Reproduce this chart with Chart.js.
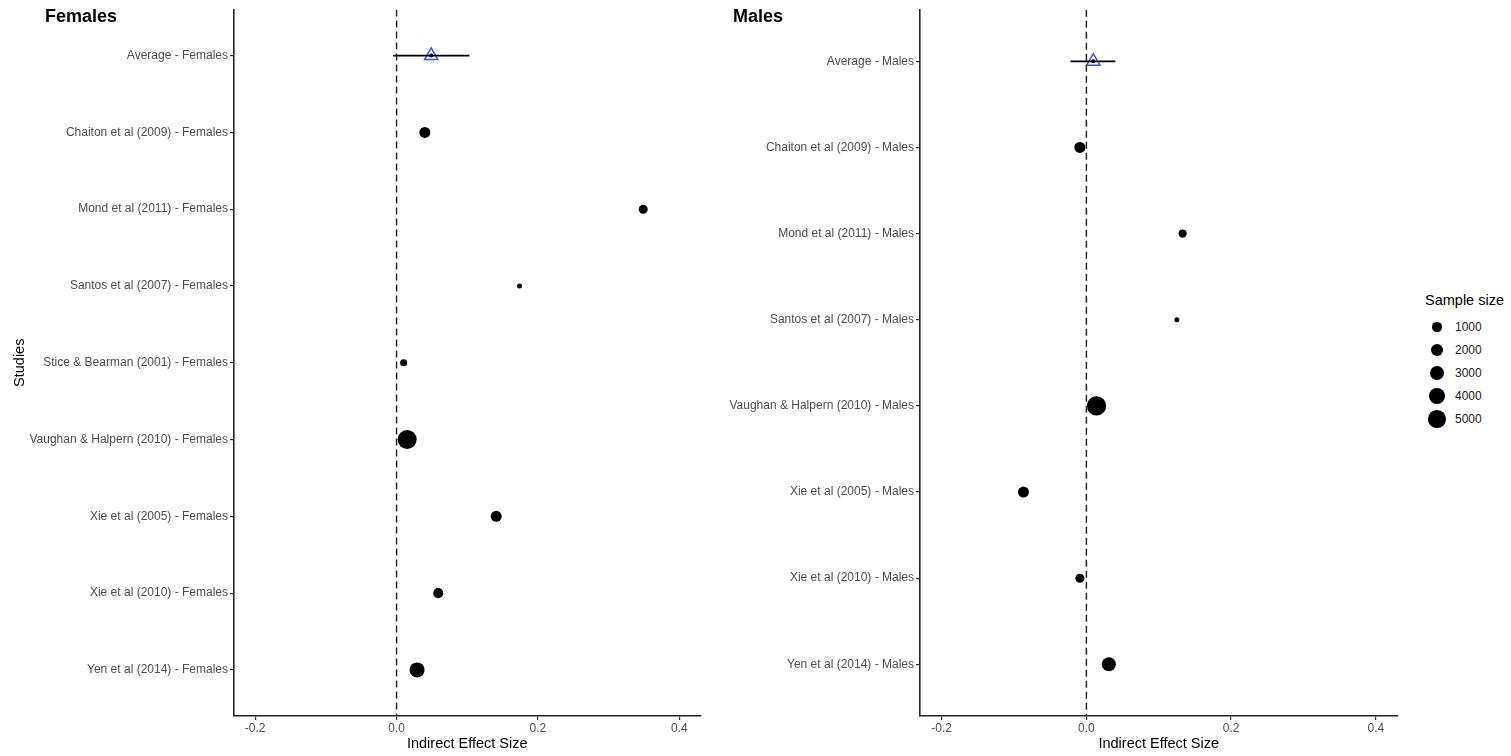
<!DOCTYPE html>
<html><head><meta charset="utf-8">
<script src="https://cdn.jsdelivr.net/npm/chart.js@4.4.1/dist/chart.umd.min.js"></script>
<style>
html,body{margin:0;padding:0;background:#fff;width:1511px;height:756px;overflow:hidden;font-family:"Liberation Sans",Arial,Helvetica,sans-serif;}
.wrap{position:absolute;top:0;height:756px;}
#wf{left:0;width:710px;}
#wm{left:710px;width:700px;}
.ptitle{position:absolute;top:6px;font-weight:bold;font-size:18px;line-height:20px;color:#000;}
#legend{position:absolute;left:1425px;top:292px;width:86px;}
#legend .lt{font-size:14.5px;line-height:17px;color:#000;white-space:nowrap;}
#legend .item{position:absolute;left:0;width:80px;height:23px;}
#legend .dot{position:absolute;background:#000;border-radius:50%;}
#legend .lab{position:absolute;left:30px;font-size:12px;line-height:14px;}
</style>
</head><body>
<div class="wrap" id="wf"><canvas id="cf" width="710" height="756"></canvas></div>
<div class="wrap" id="wm"><canvas id="cm" width="700" height="756"></canvas></div>
<div class="ptitle" style="left:45px">Females</div>
<div class="ptitle" style="left:733px">Males</div>
<div id="legend"><div class="lt">Sample size</div></div>
<script>
// ---------------- DATA ----------------
const xTicks = [-0.2, 0.0, 0.2, 0.4];
const xMin = -0.23, xMax = 0.43;
const refLine = 0;

const femaleAverageLabel = "Average - Females";
const femaleAverage = 0.049;
const femaleAverageLow = -0.005;
const femaleAverageHigh = 0.103;
const femaleStudies = [
  "Chaiton et al (2009) - Females",
  "Mond et al (2011) - Females",
  "Santos et al (2007) - Females",
  "Stice & Bearman (2001) - Females",
  "Vaughan & Halpern (2010) - Females",
  "Xie et al (2005) - Females",
  "Xie et al (2010) - Females",
  "Yen et al (2014) - Females"
];
const femaleEffects = [0.040, 0.349, 0.174, 0.010, 0.015, 0.141, 0.059, 0.029];
const femaleSizes   = [1500, 950, 485, 600, 6000, 1500, 1200, 3300];

const maleAverageLabel = "Average - Males";
const maleAverage = 0.0095;
const maleAverageLow = -0.022;
const maleAverageHigh = 0.040;
const maleStudies = [
  "Chaiton et al (2009) - Males",
  "Mond et al (2011) - Males",
  "Santos et al (2007) - Males",
  "Vaughan & Halpern (2010) - Males",
  "Xie et al (2005) - Males",
  "Xie et al (2010) - Males",
  "Yen et al (2014) - Males"
];
const maleEffects = [-0.009, 0.133, 0.125, 0.014, -0.087, -0.009, 0.031];
const maleSizes   = [1500, 750, 485, 6200, 1500, 950, 2800];

const legendSizes = [1000, 2000, 3000, 4000, 5000];

// ---------------- SIZE SCALE (area scale, like ggplot) ----------------
const allSizes = femaleSizes.concat(maleSizes);
const nMin = Math.min(...allSizes), nMax = Math.max(...allSizes);
function radiusFor(n) {
  const f = Math.max(0, (n - nMin) / (nMax - nMin));
  const s = 1 + 5 * Math.sqrt(f);
  return (2.14 + 2.86 * s) / 2;
}

Chart.defaults.font.family = '"Liberation Sans", Arial, Helvetica, sans-serif';
Chart.defaults.animation = false;

function makePanel(canvasId, avgLabel, studies, effects, sizes, avg, lo, hi, yWidth, padRight, yTitle) {
  const labels = [avgLabel].concat(studies);
  const yMin = -0.6, yMax = labels.length - 1 + 0.6;
  const studyPts = effects.map((v, i) => ({x: v, y: i + 1}));
  const radii = sizes.map(radiusFor);
  return new Chart(document.getElementById(canvasId), {
    type: 'scatter',
    data: {
      datasets: [
        {
          type: 'line',
          data: [{x: refLine, y: yMin}, {x: refLine, y: yMax}],
          borderColor: '#2a2a2a', borderWidth: 1.5, borderDash: [7, 4],
          pointRadius: 0, fill: false
        },
        {
          type: 'line',
          data: [{x: lo, y: 0}, {x: hi, y: 0}],
          borderColor: '#000', borderWidth: 1.7,
          pointRadius: 0, fill: false
        },
        {
          data: studyPts,
          backgroundColor: '#000', borderWidth: 0,
          pointRadius: radii, pointHoverRadius: radii
        },
        {
          data: [{x: avg, y: 0}],
          backgroundColor: '#000', borderWidth: 0,
          pointRadius: 2
        },
        {
          data: [{x: avg, y: 0}],
          pointStyle: 'triangle',
          backgroundColor: 'rgba(0,0,0,0)', borderColor: '#3a4cff', borderWidth: 1.5,
          pointRadius: 7.7
        }
      ]
    },
    options: {
      responsive: false,
      animation: false,
      events: [],
      layout: {padding: {top: 8, bottom: 0, left: 0, right: padRight}},
      plugins: {legend: {display: false}, tooltip: {enabled: false}, title: {display: false}},
      scales: {
        x: {
          type: 'linear', min: xMin, max: xMax,
          afterBuildTicks: (scale) => { scale.ticks = xTicks.map(v => ({value: v})); },
          afterFit: (scale) => { scale.height = 40; },
          ticks: {
            autoSkip: false, padding: 1, color: '#4d4d4d', font: {size: 12},
            maxRotation: 0, callback: (v) => Number(v).toFixed(1)
          },
          grid: {display: true, drawOnChartArea: false, drawTicks: true, tickLength: 4, color: '#333', lineWidth: 1.2},
          border: {display: true, color: '#262626', width: 1.6},
          title: {display: true, text: 'Indirect Effect Size', color: '#000', font: {size: 14.5}, padding: {top: 0, bottom: 3.5}}
        },
        y: {
          type: 'linear', min: yMin, max: yMax, reverse: true,
          afterBuildTicks: (scale) => { scale.ticks = labels.map((_, i) => ({value: i})); },
          afterFit: (scale) => { scale.width = yWidth; },
          ticks: {
            autoSkip: false, padding: 2, color: '#4d4d4d', font: {size: 12},
            callback: (v) => labels[v]
          },
          grid: {display: true, drawOnChartArea: false, drawTicks: true, tickLength: 4, color: '#333', lineWidth: 1.2},
          border: {display: true, color: '#262626', width: 1.6},
          title: {display: !!yTitle, text: yTitle || '', color: '#000', font: {size: 14.5}, padding: {top: 11.5, bottom: 0}}
        }
      }
    }
  });
}

makePanel('cf', femaleAverageLabel, femaleStudies, femaleEffects, femaleSizes,
  femaleAverage, femaleAverageLow, femaleAverageHigh, 234, 9.5, 'Studies');
makePanel('cm', maleAverageLabel, maleStudies, maleEffects, maleSizes,
  maleAverage, maleAverageLow, maleAverageHigh, 210, 12.5, null);

// ---------------- LEGEND ----------------
const lg = document.getElementById('legend');
legendSizes.forEach((n, i) => {
  const it = document.createElement('div');
  it.className = 'item';
  it.style.top = (23.5 + i * 23) + 'px';
  const r = radiusFor(n);
  const d = document.createElement('div');
  d.className = 'dot';
  d.style.width = (2 * r) + 'px'; d.style.height = (2 * r) + 'px';
  d.style.left = (12 - r) + 'px'; d.style.top = (11.5 - r) + 'px';
  const l = document.createElement('div');
  l.className = 'lab';
  l.style.top = '4.5px';
  l.style.color = '#222222';
  l.textContent = String(n);
  it.appendChild(d); it.appendChild(l);
  lg.appendChild(it);
});
</script>
</body></html>
